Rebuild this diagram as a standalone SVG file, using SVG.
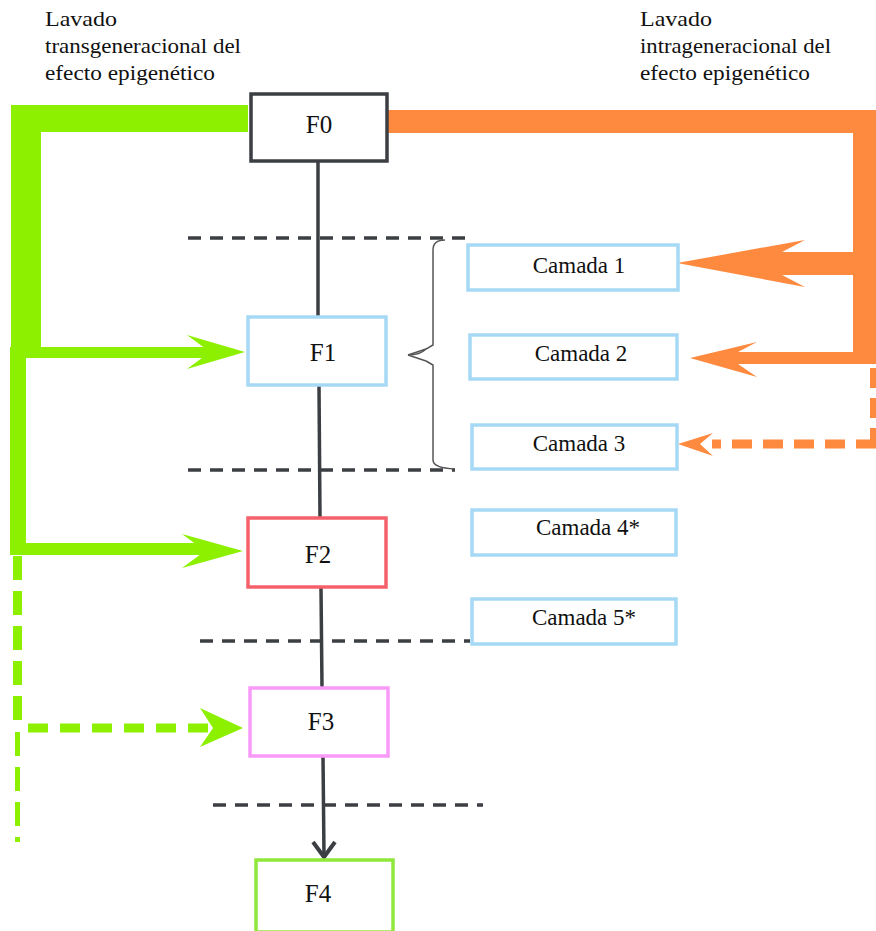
<svg xmlns="http://www.w3.org/2000/svg" width="876" height="931" viewBox="0 0 876 931">
<style>
text{font-family:"Liberation Serif","Times New Roman",serif;fill:#111}
.lbl{font-size:21px}
.gen{font-size:25px;text-anchor:middle}
.cam{font-size:23px;text-anchor:middle}
.box{fill:#fff;stroke-width:3.5}
.cbox{fill:#fff;stroke:#a6d9f5;stroke-width:3.5}
.sep{stroke:#3b3e42;stroke-width:3.5;stroke-dasharray:13 9;fill:none}
.spine{stroke:#3b3e42;stroke-width:3.5;fill:none}
.g{fill:#8cf000}
.o{fill:#fe8a40}
</style>
<g id="labels">
<text class="lbl" x="45" y="26" textLength="72" lengthAdjust="spacingAndGlyphs">Lavado</text>
<text class="lbl" x="45" y="53" textLength="196" lengthAdjust="spacingAndGlyphs">transgeneracional del</text>
<text class="lbl" x="45" y="80" textLength="170" lengthAdjust="spacingAndGlyphs">efecto epigenético</text>
<text class="lbl" x="640" y="26" textLength="72" lengthAdjust="spacingAndGlyphs">Lavado</text>
<text class="lbl" x="640" y="53" textLength="191" lengthAdjust="spacingAndGlyphs">intrageneracional del</text>
<text class="lbl" x="640" y="80" textLength="170" lengthAdjust="spacingAndGlyphs">efecto epigenético</text>
</g>
<g id="separators">
<line class="sep" x1="188" y1="238" x2="468" y2="238"/>
<line class="sep" x1="188" y1="470" x2="455" y2="470"/>
<line class="sep" x1="200" y1="641" x2="470" y2="641"/>
<line class="sep" x1="213" y1="805" x2="483" y2="805"/>
</g>
<g id="connectors">
<line class="spine" x1="318" y1="162" x2="318" y2="317"/>
<line class="spine" x1="319" y1="386" x2="320" y2="518"/>
<line class="spine" x1="321" y1="588" x2="322" y2="688"/>
<line class="spine" x1="323" y1="756" x2="324" y2="856"/>
<polyline points="313,842 324,857 335,842" fill="none" stroke="#3b3e42" stroke-width="4"/>
<path d="M408,355 Q420,355 426,349 L433,345 L433,250 Q433,240 445,240 M426,361 L433,365 L433,460 Q433,468 455,469" fill="none" stroke="#555" stroke-width="1.5"/>
<path d="M408,355 L426,349 M408,355 L426,361" fill="none" stroke="#555" stroke-width="1.5"/>
<g id="green">
<rect class="g" x="11" y="105" width="237" height="27"/>
<rect class="g" x="11" y="105" width="30" height="250"/>
<rect class="g" x="10" y="347" width="205" height="11"/>
<polygon class="g" points="187,335 245,352 187,369 210,352"/>
<rect class="g" x="10" y="347" width="16" height="208"/>
<rect class="g" x="10" y="543" width="200" height="12"/>
<polygon class="g" points="182,534 243,551 182,568 205,551"/>
<line x1="17.5" y1="556" x2="17.5" y2="724" stroke="#8cf000" stroke-width="9" stroke-dasharray="24 11"/>
<line x1="17.5" y1="732" x2="17.5" y2="842" stroke="#8cf000" stroke-width="5" stroke-dasharray="24 11"/>
<line x1="28" y1="728" x2="215" y2="728" stroke="#8cf000" stroke-width="9" stroke-dasharray="20 12"/>
<polygon class="g" points="200,708 243,728 200,747 213,728"/>
</g>
<g id="orange">
<rect class="o" x="387" y="110" width="489" height="23"/>
<rect class="o" x="853" y="110" width="23" height="254"/>
<polygon class="o" points="677,263 805,240 782,252 853,252 853,275 782,275 805,287"/>
<rect class="o" x="745" y="352" width="131" height="12"/>
<polygon class="o" points="690,358 757,342 738,352 750,352 750,364 738,364 757,377"/>
<line x1="873" y1="368" x2="873" y2="444" stroke="#fe8a40" stroke-width="6" stroke-dasharray="20 10"/>
<line x1="876" y1="444" x2="712" y2="444" stroke="#fe8a40" stroke-width="9" stroke-dasharray="20 11"/>
<polygon class="o" points="678,444 713,433 700,444 713,456"/>
</g>
</g>
<g id="F0"><rect class="box" x="251" y="94" width="136" height="67" stroke="#3b3e42"/><text class="gen" x="319" y="133" font-size="26">F0</text></g>
<g id="F1"><rect class="box" x="248" y="317" width="138" height="68" stroke="#a6d9f5"/><text class="gen" x="323" y="361">F1</text></g>
<g id="F2"><rect class="box" x="248" y="518" width="138" height="69" stroke="#f5616b"/><text class="gen" x="318" y="563">F2</text></g>
<g id="F3"><rect class="box" x="250" y="688" width="138" height="68" stroke="#f99af9"/><text class="gen" x="321" y="730">F3</text></g>
<g id="F4"><rect class="box" x="256" y="860" width="137" height="72" stroke="#8fe83a"/><text class="gen" x="318" y="902">F4</text></g>
<g id="camada1"><rect class="cbox" x="468" y="245" width="210" height="45"/><text class="cam" x="579" y="273">Camada 1</text></g>
<g id="camada2"><rect class="cbox" x="470" y="335" width="207" height="44"/><text class="cam" x="581" y="361">Camada 2</text></g>
<g id="camada3"><rect class="cbox" x="472" y="425" width="205" height="44"/><text class="cam" x="579" y="451">Camada 3</text></g>
<g id="camada4"><rect class="cbox" x="472" y="510" width="204" height="45" stroke-width="5"/><text class="cam" x="588" y="535">Camada 4*</text></g>
<g id="camada5"><rect class="cbox" x="472" y="599" width="204" height="45" stroke-width="5"/><text class="cam" x="584" y="625">Camada 5*</text></g>
</svg>
